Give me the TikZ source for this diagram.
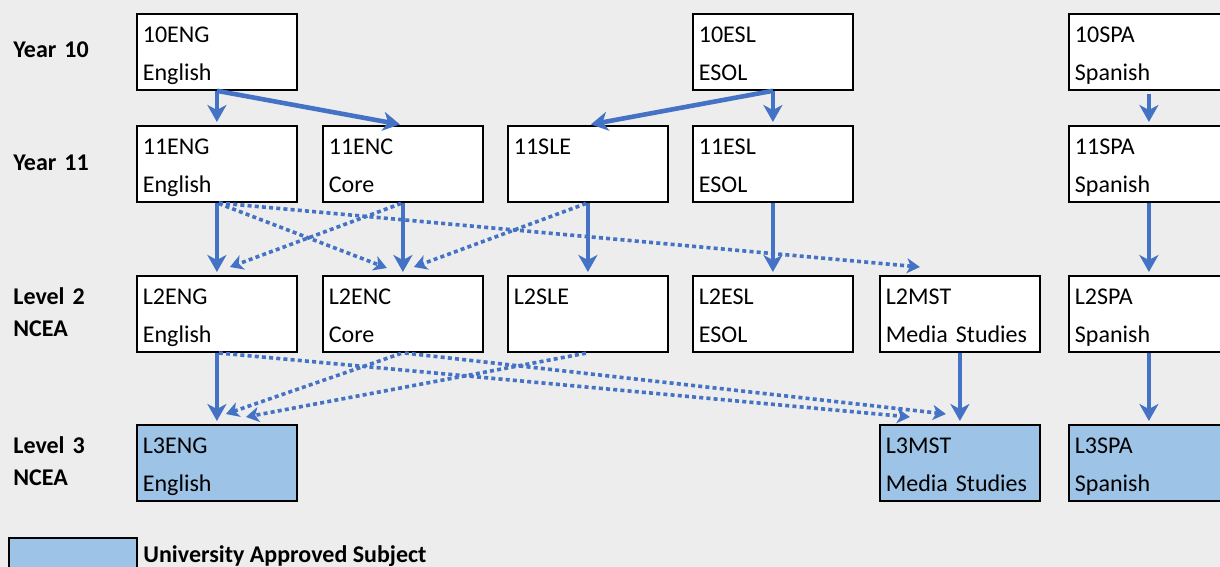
\documentclass[tikz,border=0pt]{standalone}
\usepackage{fontspec}
\setmainfont{Carlito}
\usepackage{tikz}
\usetikzlibrary{arrows.meta}

\definecolor{bggrey}{HTML}{EDEDED}
\definecolor{linkblue}{HTML}{4472C4}
\definecolor{uablue}{HTML}{9DC3E6}

\begin{document}
\begin{tikzpicture}[x=0.5pt,y=-0.5pt,
    subject/.style={draw=black,line width=0.9pt,fill=white,rectangle,anchor=north west,
      text width=74pt,inner xsep=3pt,inner ysep=0pt,align=left,
      text height=14.5pt,text depth=23.5pt,font=\fontsize{12}{19}\selectfont},
    approved/.style={subject,fill=uablue},
    yearlabel/.style={anchor=base west,text width=60pt,inner sep=0pt,align=left,
      font=\fontsize{12}{16}\selectfont\bfseries},
    pathway/.style={draw=linkblue,line width=2.3pt,shorten >=1.5pt,
      -{Stealth[length=8.5pt,width=9.5pt,inset=2.5pt]}},
    option/.style={draw=linkblue,line width=1.8pt,dash pattern=on 2pt off 1.6pt,shorten <=1pt,
      -{Stealth[length=6.5pt,width=7.5pt,inset=1.8pt]}}]
    \useasboundingbox (0,0) rectangle (1220,567);
    \clip (0,0) rectangle (1220,567);
    \fill [bggrey] (0,0) rectangle (1220,567);

    \node [yearlabel] (yr10) at (13,58) {Year 10};
    \node [yearlabel] (yr11) at (13,170) {Year 11};
    \node [yearlabel] (lvl2) at (13,304) {Level 2\\NCEA};
    \node [yearlabel] (lvl3) at (13,453) {Level 3\\NCEA};

    \node [subject] (10ENG) at (136,13) {10ENG\\English};
    \node [subject] (10ESL) at (692,13) {10ESL\\ESOL};
    \node [subject] (10SPA) at (1068,13) {10SPA\\Spanish};

    \node [subject] (11ENG) at (136,125) {11ENG\\English};
    \node [subject] (11ENC) at (322,125) {11ENC\\Core};
    \node [subject] (11SLE) at (507,125) {11SLE};
    \node [subject] (11ESL) at (692,125) {11ESL\\ESOL};
    \node [subject] (11SPA) at (1068,125) {11SPA\\Spanish};

    \node [subject] (L2ENG) at (136,275) {L2ENG\\English};
    \node [subject] (L2ENC) at (322,275) {L2ENC\\Core};
    \node [subject] (L2SLE) at (507,275) {L2SLE};
    \node [subject] (L2ESL) at (692,275) {L2ESL\\ESOL};
    \node [subject] (L2MST) at (879,275) {L2MST\\Media Studies};
    \node [subject] (L2SPA) at (1068,275) {L2SPA\\Spanish};

    \node [approved] (L3ENG) at (136,424) {L3ENG\\English};
    \node [approved] (L3MST) at (879,424) {L3MST\\Media Studies};
    \node [approved] (L3SPA) at (1068,424) {L3SPA\\Spanish};

    \node [draw=black,line width=0.9pt,fill=uablue,anchor=north west,inner sep=0pt,
      minimum width=64pt,minimum height=20pt] (key) at (8,537) {};
    \node [anchor=base west,inner sep=0pt,font=\fontsize{12}{16}\selectfont\bfseries]
      (keytext) at (143,562) {University Approved Subject};

    \draw [pathway] (10ENG.south) -- (11ENG.north);
    \draw [pathway] (10ENG.south) -- (11ENC.north);
    \draw [pathway] (10ESL.south) -- (11ESL.north);
    \draw [pathway] (10ESL.south) -- (11SLE.north);
    \draw [pathway,shorten <=1.5pt] (10SPA.south) -- (11SPA.north);

    \draw [pathway] (11ENG.south) -- (L2ENG.north);
    \draw [pathway] (11ENC.south) -- (L2ENC.north);
    \draw [pathway] (11SLE.south) -- (L2SLE.north);
    \draw [pathway] (11ESL.south) -- (L2ESL.north);
    \draw [pathway] (11SPA.south) -- (L2SPA.north);

    \draw [pathway] (L2ENG.south) -- (L3ENG.north);
    \draw [pathway] (L2MST.south) -- (L3MST.north);
    \draw [pathway] (L2SPA.south) -- (L3SPA.north);

    \draw [option] (11ENG.south) -- ([xshift=-8pt,yshift=3.5pt]L2ENC.north);
    \draw [option] (11ENG.south) -- ([xshift=-20pt,yshift=4pt]L2MST.north);
    \draw [option] (11ENC.south) -- ([xshift=6.5pt,yshift=4pt]L2ENG.north);
    \draw [option] (11SLE.south) -- ([xshift=5.5pt,yshift=4pt]L2ENC.north);

    \draw [option] (L2ENG.south) -- ([xshift=-25pt,yshift=3.5pt]L3MST.north);
    \draw [option] (L2ENC.south) -- ([xshift=-7pt,yshift=5pt]L3MST.north);
    \draw [option] (L2ENC.south) -- ([xshift=4.5pt,yshift=5pt]L3ENG.north);
    \draw [option] (L2SLE.south) -- ([xshift=14.5pt,yshift=3.5pt]L3ENG.north);
\end{tikzpicture}
\end{document}
